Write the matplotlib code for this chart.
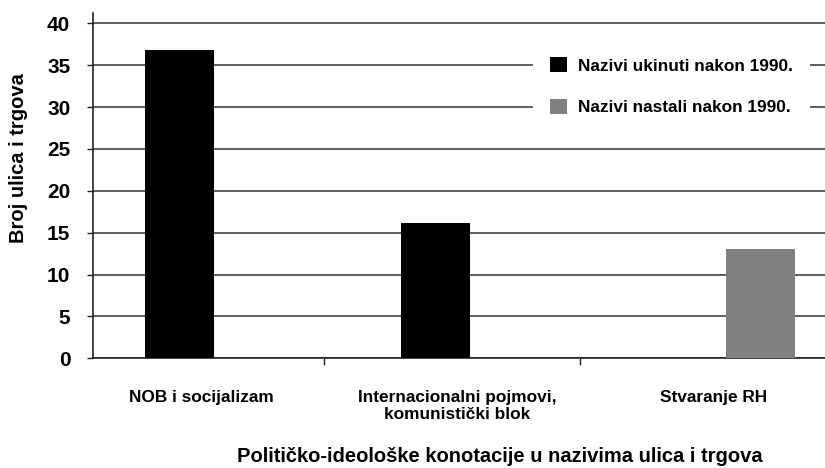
import numpy as np
import matplotlib
matplotlib.use("Agg")
import matplotlib.pyplot as plt
from matplotlib.patches import Patch
import matplotlib.transforms as mtransforms

plt.rcParams['font.family'] = ['Liberation Sans', 'DejaVu Sans']
plt.rcParams['font.weight'] = 'bold'

# Data
categories = ["NOB i socijalizam",
              "Internacionalni pojmovi,\nkomunistički blok",
              "Stvaranje RH"]
ukinuti = [36.8, 16.1, 0]    # Nazivi ukinuti nakon 1990.
nastali = [0, 0, 13.0]       # Nazivi nastali nakon 1990.
series_labels = ["Nazivi ukinuti nakon 1990.", "Nazivi nastali nakon 1990."]
y_ticks = [0, 5, 10, 15, 20, 25, 30, 35, 40]

x = np.arange(len(categories))
w = 0.27

fig = plt.figure(figsize=(8.25, 4.68), dpi=100)
ax = fig.add_axes([0.1127, 0.2344, 0.8873, 0.7372])

ax.bar(x - w / 2, ukinuti, width=w, color="black", zorder=3)
ax.bar(x + w / 2, nastali, width=w, color="#808080", zorder=3)

ax.set_xlim(-0.473, 2.387)
ax.set_ylim(0, 41.2)

# grid
ax.set_yticks(y_ticks)
ax.yaxis.grid(True, color="#333333", linewidth=1.1, zorder=0)
ax.tick_params(axis="y", direction="out", length=4.3, width=1.0,
               pad=12, labelsize=15, colors="#222222")
for lab in ax.get_yticklabels():
    lab.set_color("black")
    lab.set_fontweight("bold")

# x axis: separator ticks only, labels as text
ax.set_xticks([])
ax.set_xticks(x[:-1] + 0.43, minor=True)
ax.tick_params(axis="x", which="minor", direction="out", length=5,
               width=1.0, colors="#222222")
trans = mtransforms.blended_transform_factory(ax.transData, ax.transAxes)
for xi, cat in zip(x, categories):
    ax.text(xi - 0.05, -0.091, cat, transform=trans, ha="center", va="top",
            fontsize=12.4, fontweight="bold", linespacing=1.2)

for side in ["top", "right"]:
    ax.spines[side].set_visible(False)
for side in ["left", "bottom"]:
    ax.spines[side].set_color("#222222")
    ax.spines[side].set_linewidth(1.2)

# axis titles
fig.text(19 / 825, 1 - 158.5 / 468, "Broj ulica i trgova", rotation=90,
         ha="center", va="center", fontsize=14.5, fontweight="bold")
fig.text(500 / 825, 1 - 462 / 468,
         "Političko-ideološke konotacije u nazivima ulica i trgova",
         ha="center", va="baseline", fontsize=14.5, fontweight="bold")

# legend
handles = [Patch(facecolor="black"), Patch(facecolor="#808080")]
leg = fig.legend(handles, series_labels, loc="center",
                 bbox_to_anchor=(0.8139, 0.8162), frameon=True,
                 facecolor="white", edgecolor="none", framealpha=1,
                 fancybox=False, handlelength=1.0, handleheight=1.0,
                 handletextpad=0.6, labelspacing=1.45, borderpad=1.0,
                 prop={"size": 12.4, "weight": "bold"})

fig.savefig("out.png", dpi=100)
